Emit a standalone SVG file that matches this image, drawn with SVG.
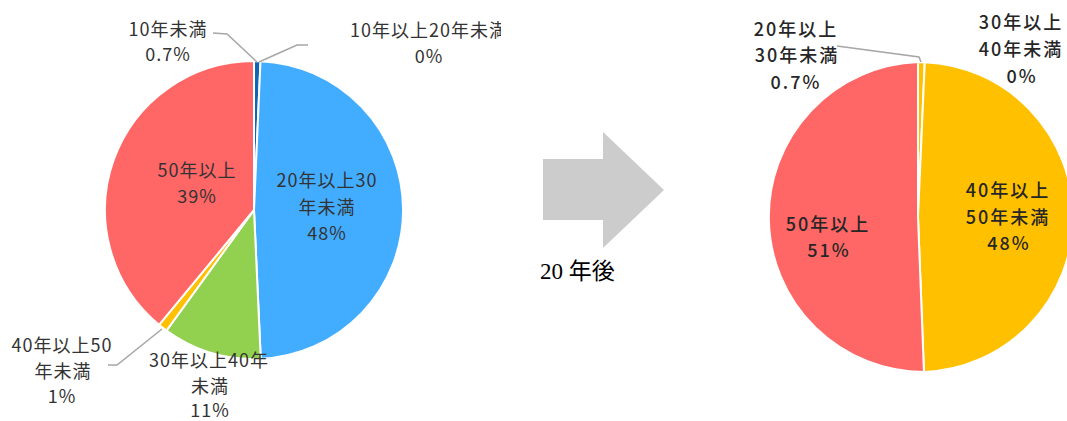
<svg xmlns="http://www.w3.org/2000/svg" width="1067" height="421" viewBox="0 0 1067 421">
<style>
  .slice { stroke: #FFFFFF; stroke-width: 2; stroke-linejoin: round; }
  .lbl { font-family: "Noto Sans CJK JP", "Noto Sans", sans-serif; font-size: 18px; fill: #333333; text-anchor: middle; letter-spacing: 1px; }
  .lblb { font-family: "Noto Sans CJK JP", "Noto Sans", sans-serif; font-size: 18px; font-weight: 500; fill: #262626; text-anchor: middle; letter-spacing: 2px; }
  .leader { fill: none; stroke: #A6A6A6; stroke-width: 1.5; }
  .serif { font-family: "Liberation Serif", "Noto Sans CJK JP", serif; font-size: 23px; fill: #000000; }
</style>
<defs>
  <clipPath id="clipLeftArea"><rect x="0" y="0" width="501" height="421"/></clipPath>
</defs>
<rect x="0" y="0" width="1067" height="421" fill="#FFFFFF"/>

<g id="pie-before">
  <g id="slice-under10">
    <path class="slice" fill="#0F64B4" d="M254,210 L254,61 A149,149 0 0 1 260.5,61.14 Z"/>
  </g>
  <g id="slice-20to30">
    <path class="slice" fill="#42ADFF" d="M254,210 L260.5,61.14 A149,149 0 0 1 260.76,358.85 Z"/>
  </g>
  <g id="slice-30to40">
    <path class="slice" fill="#92D050" d="M254,210 L260.76,358.85 A149,149 0 0 1 166.42,330.54 Z"/>
  </g>
  <g id="slice-40to50">
    <path class="slice" fill="#FFC000" d="M254,210 L166.42,330.54 A149,149 0 0 1 159.02,324.81 Z"/>
  </g>
  <g id="slice-over50">
    <path class="slice" fill="#FF6666" d="M254,210 L159.02,324.81 A149,149 0 0 1 254,61 Z"/>
  </g>
</g>

<g id="pie-after">
  <g id="slice2-20to30">
    <path class="slice" fill="#FFC000" d="M918,217 L918,62 A155,155 0 0 1 924.76,62.15 Z"/>
  </g>
  <g id="slice2-40to50">
    <path class="slice" fill="#FFC000" d="M918,217 L924.76,62.15 A155,155 0 0 1 923.95,371.89 Z"/>
  </g>
  <g id="slice2-over50">
    <path class="slice" fill="#FF6666" d="M918,217 L923.95,371.89 A155,155 0 0 1 918,62 Z"/>
  </g>
</g>

<g id="connectors">
  <polyline class="leader" points="213,33 227,34 257,62"/>
  <polyline class="leader" points="308,45 297,45 259,62"/>
  <polyline class="leader" points="108,365 117,365 162,329"/>
  <polyline class="leader" points="837,46 919,57 921,62"/>
</g>

<g id="labels-before">
  <g id="label-under10">
    <text class="lbl" x="168" y="36">10年未満</text>
    <text class="lbl" x="168" y="61">0.7%</text>
  </g>
  <g id="label-10to20" clip-path="url(#clipLeftArea)">
    <text class="lbl" x="429" y="37">10年以上20年未満</text>
    <text class="lbl" x="429" y="63">0%</text>
  </g>
  <g id="label-20to30">
    <text class="lbl" x="327" y="187">20年以上30</text>
    <text class="lbl" x="327" y="214">年未満</text>
    <text class="lbl" x="327" y="240">48%</text>
  </g>
  <g id="label-over50">
    <text class="lbl" x="197" y="177">50年以上</text>
    <text class="lbl" x="197" y="203">39%</text>
  </g>
  <g id="label-40to50">
    <text class="lbl" x="62" y="352">40年以上50</text>
    <text class="lbl" x="63" y="378">年未満</text>
    <text class="lbl" x="62" y="403">1%</text>
  </g>
  <g id="label-30to40">
    <text class="lbl" x="209" y="367">30年以上40年</text>
    <text class="lbl" x="210" y="393">未満</text>
    <text class="lbl" x="210" y="417">11%</text>
  </g>
</g>

<g id="arrow">
  <polygon fill="#CCCCCC" points="543,159 603,159 603,132 664,190 603,248 603,220 543,220"/>
  <text class="serif" x="540" y="279">20 年後</text>
</g>

<g id="labels-after">
  <g id="label2-20to30">
    <text class="lblb" x="796" y="36">20年以上</text>
    <text class="lblb" x="797" y="62">30年未満</text>
    <text class="lblb" x="796" y="89">0.7%</text>
  </g>
  <g id="label2-30to40">
    <text class="lblb" x="1021" y="29">30年以上</text>
    <text class="lblb" x="1021" y="56">40年未満</text>
    <text class="lblb" x="1022" y="83">0%</text>
  </g>
  <g id="label2-40to50">
    <text class="lblb" x="1008" y="197">40年以上</text>
    <text class="lblb" x="1008" y="224">50年未満</text>
    <text class="lblb" x="1009" y="250">48%</text>
  </g>
  <g id="label2-over50">
    <text class="lblb" x="828" y="231">50年以上</text>
    <text class="lblb" x="829" y="257">51%</text>
  </g>
</g>
</svg>
